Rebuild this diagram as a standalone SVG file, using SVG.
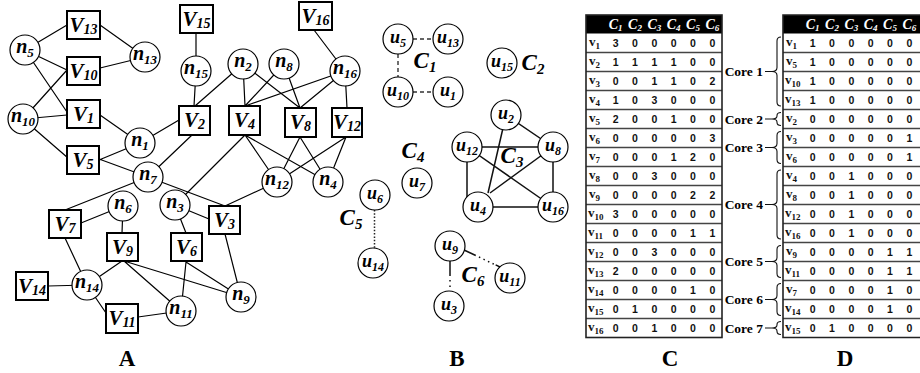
<svg xmlns="http://www.w3.org/2000/svg" width="920" height="373" viewBox="0 0 920 373">
<style>
  .bx{fill:#fff;stroke:#000;stroke-width:2}
  .cr{fill:#fff;stroke:#000;stroke-width:1.2}
  .e{stroke:#000;stroke-width:1.2;fill:none}
  .e2{stroke:#111;stroke-width:1.5;fill:none}
  .dash{stroke:#333;stroke-width:1.4;stroke-dasharray:4 3;fill:none}
  .dot{stroke:#222;stroke-width:1.5;stroke-dasharray:1.5 1.8;fill:none}
  .mix{stroke:#111;stroke-width:1.5;fill:none}
  .lb{font-family:"Liberation Serif",serif;font-weight:bold;font-style:italic;text-anchor:middle;fill:#000}
  .V{font-size:21px}
  .n{font-size:20px}
  .u{font-size:18px}
  .C{font-size:23px}
  .s14{font-size:14px}
  .s13{font-size:13px}
  .s12{font-size:12px}
  .s15{font-size:15px}
  .pl{font-family:"Liberation Serif",serif;font-weight:bold;font-size:23px;text-anchor:middle}
  .hd{font-family:"Liberation Serif",serif;font-weight:bold;font-style:italic;font-size:14px;fill:#fff;text-anchor:middle}
  .hs{font-size:9px}
  .num{font-family:"Liberation Sans",sans-serif;font-weight:bold;font-size:10.5px;text-anchor:middle;fill:#111}
  .rv{font-family:"Liberation Serif",serif;font-weight:bold;font-size:13px;fill:#111}
  .rs{font-size:9px}
  .sep{stroke:#444;stroke-width:1.4;fill:none}
  .tb{fill:none;stroke:#222;stroke-width:1.6}
  .core{font-family:"Liberation Serif",serif;font-weight:bold;font-size:13.5px;text-anchor:end}
  .br{fill:none;stroke:#111;stroke-width:1.1}
</style>

<!-- ===== Panel A: bipartite graph ===== -->
<g id="edges-A" class="e">
  <path d="M25,50L67,25M25,50L67,70M25,50L67,112M100,25L145,57M100,68L145,57M23,119L67,70M23,119L67,115M23,119L68,158"/>
  <path d="M100,115L140,143M99,160L140,143M99,159L148,177M140,143L179,120M192,135L148,177M148,177L65,210M148,177L225,206"/>
  <path d="M196,33L196,71M196,71L194,106M243,64L195,106M243,64L245,106M243,64L300,108M284,64L245,106M284,64L300,108"/>
  <path d="M345,71L245,106M345,71L300,108M345,71L347,108M314,30L345,71"/>
  <path d="M245,135L175,205M245,135L277,182M245,135L328,182M300,137L277,182M300,137L328,182M346,137L277,182M346,137L328,182"/>
  <path d="M277,182L225,206M175,205L209,219M175,205L186,233M225,234L241,297"/>
  <path d="M123,206L81,223M123,206L122,233M65,238L87,285M122,261L87,285M124,261L181,311M124,261L241,297"/>
  <path d="M186,262L181,311M186,262L241,297M87,285L48,286M87,285L106,313M138,317L181,311"/>
</g>

<g id="V13"><rect class="bx" x="67" y="11" width="33" height="28"/><text class="lb V" x="83.5" y="32">V<tspan class="s14" dy="2">13</tspan></text></g>
<g id="V10"><rect class="bx" x="67" y="57" width="33" height="28"/><text class="lb V" x="83.5" y="78">V<tspan class="s14" dy="2">10</tspan></text></g>
<g id="V1"><rect class="bx" x="67" y="100" width="33" height="28"/><text class="lb V" x="83.5" y="121">V<tspan class="s14" dy="2">1</tspan></text></g>
<g id="V5"><rect class="bx" x="67" y="146" width="32" height="28"/><text class="lb V" x="83" y="167">V<tspan class="s14" dy="2">5</tspan></text></g>
<g id="V15"><rect class="bx" x="180" y="5" width="33" height="28"/><text class="lb V" x="196.5" y="26">V<tspan class="s14" dy="2">15</tspan></text></g>
<g id="V16"><rect class="bx" x="299" y="2" width="33" height="28"/><text class="lb V" x="315.5" y="23">V<tspan class="s14" dy="2">16</tspan></text></g>
<g id="V2"><rect class="bx" x="179" y="106" width="31" height="29"/><text class="lb V" x="194.5" y="127">V<tspan class="s14" dy="2">2</tspan></text></g>
<g id="V4"><rect class="bx" x="229" y="106" width="31" height="29"/><text class="lb V" x="244.5" y="127">V<tspan class="s14" dy="2">4</tspan></text></g>
<g id="V8"><rect class="bx" x="285" y="108" width="31" height="29"/><text class="lb V" x="300.5" y="129">V<tspan class="s14" dy="2">8</tspan></text></g>
<g id="V12"><rect class="bx" x="332" y="108" width="30" height="29"/><text class="lb V" x="347" y="129">V<tspan class="s14" dy="2">12</tspan></text></g>
<g id="V3"><rect class="bx" x="209" y="206" width="31" height="28"/><text class="lb V" x="224.5" y="227">V<tspan class="s14" dy="2">3</tspan></text></g>
<g id="V7"><rect class="bx" x="49" y="210" width="32" height="28"/><text class="lb V" x="65" y="231">V<tspan class="s14" dy="2">7</tspan></text></g>
<g id="V9"><rect class="bx" x="107" y="233" width="31" height="28"/><text class="lb V" x="122.5" y="254">V<tspan class="s14" dy="2">9</tspan></text></g>
<g id="V6"><rect class="bx" x="171" y="233" width="31" height="28"/><text class="lb V" x="186.5" y="254">V<tspan class="s14" dy="2">6</tspan></text></g>
<g id="V14"><rect class="bx" x="16" y="272" width="32" height="28"/><text class="lb V" x="32" y="293">V<tspan class="s14" dy="2">14</tspan></text></g>
<g id="V11"><rect class="bx" x="106" y="304" width="32" height="29"/><text class="lb V" x="122" y="325">V<tspan class="s14" dy="2">11</tspan></text></g>

<g id="n5"><circle class="cr" cx="25" cy="50" r="15"/><text class="lb n" x="25" y="53">n<tspan class="s13" dy="4">5</tspan></text></g>
<g id="n13"><circle class="cr" cx="145" cy="57" r="15"/><text class="lb n" x="145" y="60">n<tspan class="s13" dy="4">13</tspan></text></g>
<g id="n10"><circle class="cr" cx="23" cy="119" r="15"/><text class="lb n" x="23" y="122">n<tspan class="s13" dy="4">10</tspan></text></g>
<g id="n1"><circle class="cr" cx="140" cy="143" r="15"/><text class="lb n" x="140" y="146">n<tspan class="s13" dy="4">1</tspan></text></g>
<g id="n7"><circle class="cr" cx="148" cy="177" r="15"/><text class="lb n" x="148" y="180">n<tspan class="s13" dy="4">7</tspan></text></g>
<g id="n15"><circle class="cr" cx="196" cy="71" r="15"/><text class="lb n" x="196" y="74">n<tspan class="s13" dy="4">15</tspan></text></g>
<g id="n2"><circle class="cr" cx="243" cy="64" r="15"/><text class="lb n" x="243" y="67">n<tspan class="s13" dy="4">2</tspan></text></g>
<g id="n8"><circle class="cr" cx="284" cy="64" r="15"/><text class="lb n" x="284" y="67">n<tspan class="s13" dy="4">8</tspan></text></g>
<g id="n16"><circle class="cr" cx="345" cy="71" r="15"/><text class="lb n" x="345" y="74">n<tspan class="s13" dy="4">16</tspan></text></g>
<g id="n12"><circle class="cr" cx="277" cy="182" r="15"/><text class="lb n" x="277" y="185">n<tspan class="s13" dy="4">12</tspan></text></g>
<g id="n4"><circle class="cr" cx="328" cy="182" r="15"/><text class="lb n" x="328" y="185">n<tspan class="s13" dy="4">4</tspan></text></g>
<g id="n6"><circle class="cr" cx="123" cy="206" r="15"/><text class="lb n" x="123" y="209">n<tspan class="s13" dy="4">6</tspan></text></g>
<g id="n3"><circle class="cr" cx="175" cy="205" r="15"/><text class="lb n" x="175" y="208">n<tspan class="s13" dy="4">3</tspan></text></g>
<g id="n14"><circle class="cr" cx="87" cy="285" r="15"/><text class="lb n" x="87" y="288">n<tspan class="s13" dy="4">14</tspan></text></g>
<g id="n11"><circle class="cr" cx="181" cy="311" r="15"/><text class="lb n" x="181" y="314">n<tspan class="s13" dy="4">11</tspan></text></g>
<g id="n9"><circle class="cr" cx="241" cy="297" r="15"/><text class="lb n" x="241" y="300">n<tspan class="s13" dy="4">9</tspan></text></g>

<text class="pl" x="127" y="366">A</text>

<!-- ===== Panel B: communities ===== -->
<g id="edges-B">
  <path class="dash" d="M413,39H433M398,54V77M413,92H433"/>
  <path class="dot" d="M374.5,210V248"/>
  <path class="e2" d="M506,115L553,147M506,115L488,193M467,147H553M467,147V198M467,147L553,207M553,147L490,193M553,147V207M478,207H553"/>
  <path class="mix" stroke-dasharray="13 3.5 1.5 3.5 1.5 3.5 1.5 3.5 1.5 2" d="M464,250L500,267"/>
  <path class="mix" stroke-dasharray="15 4 1.5 4 1.5 10" d="M450,261V292"/>
</g>

<g id="u5"><circle class="cr" cx="398" cy="39" r="15"/><text class="lb u" x="398" y="43">u<tspan class="s12" dy="3.5">5</tspan></text></g>
<g id="u13"><circle class="cr" cx="448" cy="39" r="15"/><text class="lb u" x="448" y="43">u<tspan class="s12" dy="3.5">13</tspan></text></g>
<g id="u10"><circle class="cr" cx="398" cy="92" r="15"/><text class="lb u" x="398" y="96">u<tspan class="s12" dy="3.5">10</tspan></text></g>
<g id="u1"><circle class="cr" cx="448" cy="92" r="15"/><text class="lb u" x="448" y="96">u<tspan class="s12" dy="3.5">1</tspan></text></g>
<g id="u15"><circle class="cr" cx="502" cy="63" r="15"/><text class="lb u" x="502" y="67">u<tspan class="s12" dy="3.5">15</tspan></text></g>
<g id="u2"><circle class="cr" cx="506" cy="115" r="15"/><text class="lb u" x="506" y="119">u<tspan class="s12" dy="3.5">2</tspan></text></g>
<g id="u12"><circle class="cr" cx="467" cy="147" r="15"/><text class="lb u" x="467" y="151">u<tspan class="s12" dy="3.5">12</tspan></text></g>
<g id="u8"><circle class="cr" cx="553" cy="147" r="15"/><text class="lb u" x="553" y="151">u<tspan class="s12" dy="3.5">8</tspan></text></g>
<g id="u4"><circle class="cr" cx="478" cy="207" r="15"/><text class="lb u" x="478" y="211">u<tspan class="s12" dy="3.5">4</tspan></text></g>
<g id="u16"><circle class="cr" cx="553" cy="207" r="15"/><text class="lb u" x="553" y="211">u<tspan class="s12" dy="3.5">16</tspan></text></g>
<g id="u7"><circle class="cr" cx="417" cy="183" r="15"/><text class="lb u" x="417" y="187">u<tspan class="s12" dy="3.5">7</tspan></text></g>
<g id="u6"><circle class="cr" cx="375" cy="195" r="15"/><text class="lb u" x="375" y="199">u<tspan class="s12" dy="3.5">6</tspan></text></g>
<g id="u14"><circle class="cr" cx="373" cy="263" r="15"/><text class="lb u" x="373" y="267">u<tspan class="s12" dy="3.5">14</tspan></text></g>
<g id="u9"><circle class="cr" cx="450" cy="246" r="15"/><text class="lb u" x="450" y="250">u<tspan class="s12" dy="3.5">9</tspan></text></g>
<g id="u11"><circle class="cr" cx="510" cy="278" r="15"/><text class="lb u" x="510" y="282">u<tspan class="s12" dy="3.5">11</tspan></text></g>
<g id="u3"><circle class="cr" cx="449" cy="306" r="15"/><text class="lb u" x="449" y="310">u<tspan class="s12" dy="3.5">3</tspan></text></g>

<g id="community-labels">
  <text class="lb C" x="425" y="68">C<tspan class="s15" dy="4">1</tspan></text>
  <text class="lb C" x="533" y="70">C<tspan class="s15" dy="4">2</tspan></text>
  <text class="lb C" x="512" y="163">C<tspan class="s15" dy="4">3</tspan></text>
  <text class="lb C" x="413" y="158">C<tspan class="s15" dy="4">4</tspan></text>
  <text class="lb C" x="351" y="225">C<tspan class="s15" dy="4">5</tspan></text>
  <text class="lb C" x="473" y="282">C<tspan class="s15" dy="4">6</tspan></text>
</g>

<text class="pl" x="457" y="366">B</text>

<!-- ===== Panel C: community counts per vertex ===== -->
<g id="table-C">
  <rect x="586" y="15" width="136" height="18.5" fill="#000"/>
  <text class="hd" x="615.7" y="28.5">C<tspan class="hs" dy="2">1</tspan></text>
  <text class="hd" x="635" y="28.5">C<tspan class="hs" dy="2">2</tspan></text>
  <text class="hd" x="654.3" y="28.5">C<tspan class="hs" dy="2">3</tspan></text>
  <text class="hd" x="673.7" y="28.5">C<tspan class="hs" dy="2">4</tspan></text>
  <text class="hd" x="693" y="28.5">C<tspan class="hs" dy="2">5</tspan></text>
  <text class="hd" x="712.3" y="28.5">C<tspan class="hs" dy="2">6</tspan></text>
  <path class="sep" d="M586,52.5H722M586,71.5H722M586,90.5H722M586,109.5H722M586,128.5H722M586,147.5H722M586,166.5H722M586,185.5H722M586,204.5H722M586,223.5H722M586,242.5H722M586,261.5H722M586,280.5H722M586,299.5H722M586,318.5H722"/>
  <rect class="tb" x="586" y="15" width="136" height="322.5"/>
  <text class="rv" x="589" y="46">v<tspan class="rs" dy="3">1</tspan></text>
  <text class="rv" x="589" y="65">v<tspan class="rs" dy="3">2</tspan></text>
  <text class="rv" x="589" y="84">v<tspan class="rs" dy="3">3</tspan></text>
  <text class="rv" x="589" y="103">v<tspan class="rs" dy="3">4</tspan></text>
  <text class="rv" x="589" y="122">v<tspan class="rs" dy="3">5</tspan></text>
  <text class="rv" x="589" y="141">v<tspan class="rs" dy="3">6</tspan></text>
  <text class="rv" x="589" y="160">v<tspan class="rs" dy="3">7</tspan></text>
  <text class="rv" x="589" y="179">v<tspan class="rs" dy="3">8</tspan></text>
  <text class="rv" x="589" y="198">v<tspan class="rs" dy="3">9</tspan></text>
  <text class="rv" x="588" y="217">v<tspan class="rs" dy="3">10</tspan></text>
  <text class="rv" x="588" y="236">v<tspan class="rs" dy="3">11</tspan></text>
  <text class="rv" x="588" y="255">v<tspan class="rs" dy="3">12</tspan></text>
  <text class="rv" x="588" y="274">v<tspan class="rs" dy="3">13</tspan></text>
  <text class="rv" x="588" y="293">v<tspan class="rs" dy="3">14</tspan></text>
  <text class="rv" x="588" y="312">v<tspan class="rs" dy="3">15</tspan></text>
  <text class="rv" x="588" y="331">v<tspan class="rs" dy="3">16</tspan></text>
  <text class="num" x="615.7 635 654.3 673.7 693 712.3" y="46.5">300000</text>
  <text class="num" x="615.7 635 654.3 673.7 693 712.3" y="65.5">111100</text>
  <text class="num" x="615.7 635 654.3 673.7 693 712.3" y="84.5">001102</text>
  <text class="num" x="615.7 635 654.3 673.7 693 712.3" y="103.5">103000</text>
  <text class="num" x="615.7 635 654.3 673.7 693 712.3" y="122.5">200100</text>
  <text class="num" x="615.7 635 654.3 673.7 693 712.3" y="141.5">000003</text>
  <text class="num" x="615.7 635 654.3 673.7 693 712.3" y="160.5">000120</text>
  <text class="num" x="615.7 635 654.3 673.7 693 712.3" y="179.5">003000</text>
  <text class="num" x="615.7 635 654.3 673.7 693 712.3" y="198.5">000022</text>
  <text class="num" x="615.7 635 654.3 673.7 693 712.3" y="217.5">300000</text>
  <text class="num" x="615.7 635 654.3 673.7 693 712.3" y="236.5">000011</text>
  <text class="num" x="615.7 635 654.3 673.7 693 712.3" y="255.5">003000</text>
  <text class="num" x="615.7 635 654.3 673.7 693 712.3" y="274.5">200000</text>
  <text class="num" x="615.7 635 654.3 673.7 693 712.3" y="293.5">000010</text>
  <text class="num" x="615.7 635 654.3 673.7 693 712.3" y="312.5">010000</text>
  <text class="num" x="615.7 635 654.3 673.7 693 712.3" y="331.5">001000</text>
</g>
<text class="pl" x="670" y="366">C</text>

<!-- ===== Core brackets ===== -->
<g id="cores">
  <path class="br" d="M781,37Q777,37 777,41V67.5Q777,71.5 772,71.5Q777,71.5 777,75.5V102Q777,106 781,106M765,71.5H772"/>
  <path class="br" d="M781,112.5Q777,112.5 777,115.5V116Q777,119 772,119Q777,119 777,122V122.5Q777,125.5 781,125.5M765,119H772"/>
  <path class="br" d="M781,131.5Q777,131.5 777,135.5V143.5Q777,147.5 772,147.5Q777,147.5 777,151.5V159.5Q777,163.5 781,163.5M765,147.5H772"/>
  <path class="br" d="M781,170Q777,170 777,174V200.5Q777,204.5 772,204.5Q777,204.5 777,208.5V235Q777,239 781,239M765,204.5H772"/>
  <path class="br" d="M781,245.5Q777,245.5 777,249.5V257.5Q777,261.5 772,261.5Q777,261.5 777,265.5V273.5Q777,277.5 781,277.5M765,261.5H772"/>
  <path class="br" d="M781,283.5Q777,283.5 777,287.5V295.5Q777,299.5 772,299.5Q777,299.5 777,303.5V311.5Q777,315.5 781,315.5M765,299.5H772"/>
  <path class="br" d="M781,321.5Q777,321.5 777,324.5V325Q777,328 772,328Q777,328 777,331V331.5Q777,334.5 781,334.5M765,328H772"/>
  <text class="core" x="763" y="76">Core 1</text>
  <text class="core" x="763" y="123.5">Core 2</text>
  <text class="core" x="763" y="152">Core 3</text>
  <text class="core" x="763" y="209">Core 4</text>
  <text class="core" x="763" y="266">Core 5</text>
  <text class="core" x="763" y="304">Core 6</text>
  <text class="core" x="763" y="332.5">Core 7</text>
</g>

<!-- ===== Panel D: core membership ===== -->
<g id="table-D">
  <rect x="783" y="15" width="137" height="18.5" fill="#000"/>
  <text class="hd" x="812.7" y="28.5">C<tspan class="hs" dy="2">1</tspan></text>
  <text class="hd" x="832" y="28.5">C<tspan class="hs" dy="2">2</tspan></text>
  <text class="hd" x="851.3" y="28.5">C<tspan class="hs" dy="2">3</tspan></text>
  <text class="hd" x="870.7" y="28.5">C<tspan class="hs" dy="2">4</tspan></text>
  <text class="hd" x="890" y="28.5">C<tspan class="hs" dy="2">5</tspan></text>
  <text class="hd" x="909.3" y="28.5">C<tspan class="hs" dy="2">6</tspan></text>
  <path class="sep" d="M783,52.5H920M783,71.5H920M783,90.5H920M783,109.5H920M783,128.5H920M783,147.5H920M783,166.5H920M783,185.5H920M783,204.5H920M783,223.5H920M783,242.5H920M783,261.5H920M783,280.5H920M783,299.5H920M783,318.5H920"/>
  <path class="tb" d="M920,15H783V337.5H920"/>
  <text class="rv" x="786" y="46">v<tspan class="rs" dy="3">1</tspan></text>
  <text class="rv" x="786" y="65">v<tspan class="rs" dy="3">5</tspan></text>
  <text class="rv" x="785" y="84">v<tspan class="rs" dy="3">10</tspan></text>
  <text class="rv" x="785" y="103">v<tspan class="rs" dy="3">13</tspan></text>
  <text class="rv" x="786" y="122">v<tspan class="rs" dy="3">2</tspan></text>
  <text class="rv" x="786" y="141">v<tspan class="rs" dy="3">3</tspan></text>
  <text class="rv" x="786" y="160">v<tspan class="rs" dy="3">6</tspan></text>
  <text class="rv" x="786" y="179">v<tspan class="rs" dy="3">4</tspan></text>
  <text class="rv" x="786" y="198">v<tspan class="rs" dy="3">8</tspan></text>
  <text class="rv" x="785" y="217">v<tspan class="rs" dy="3">12</tspan></text>
  <text class="rv" x="785" y="236">v<tspan class="rs" dy="3">16</tspan></text>
  <text class="rv" x="786" y="255">v<tspan class="rs" dy="3">9</tspan></text>
  <text class="rv" x="785" y="274">v<tspan class="rs" dy="3">11</tspan></text>
  <text class="rv" x="786" y="293">v<tspan class="rs" dy="3">7</tspan></text>
  <text class="rv" x="785" y="312">v<tspan class="rs" dy="3">14</tspan></text>
  <text class="rv" x="785" y="331">v<tspan class="rs" dy="3">15</tspan></text>
  <text class="num" x="812.7 832 851.3 870.7 890 909.3" y="46.5">100000</text>
  <text class="num" x="812.7 832 851.3 870.7 890 909.3" y="65.5">100000</text>
  <text class="num" x="812.7 832 851.3 870.7 890 909.3" y="84.5">100000</text>
  <text class="num" x="812.7 832 851.3 870.7 890 909.3" y="103.5">100000</text>
  <text class="num" x="812.7 832 851.3 870.7 890 909.3" y="122.5">000000</text>
  <text class="num" x="812.7 832 851.3 870.7 890 909.3" y="141.5">000001</text>
  <text class="num" x="812.7 832 851.3 870.7 890 909.3" y="160.5">000001</text>
  <text class="num" x="812.7 832 851.3 870.7 890 909.3" y="179.5">001000</text>
  <text class="num" x="812.7 832 851.3 870.7 890 909.3" y="198.5">001000</text>
  <text class="num" x="812.7 832 851.3 870.7 890 909.3" y="217.5">001000</text>
  <text class="num" x="812.7 832 851.3 870.7 890 909.3" y="236.5">001000</text>
  <text class="num" x="812.7 832 851.3 870.7 890 909.3" y="255.5">000011</text>
  <text class="num" x="812.7 832 851.3 870.7 890 909.3" y="274.5">000011</text>
  <text class="num" x="812.7 832 851.3 870.7 890 909.3" y="293.5">000010</text>
  <text class="num" x="812.7 832 851.3 870.7 890 909.3" y="312.5">000010</text>
  <text class="num" x="812.7 832 851.3 870.7 890 909.3" y="331.5">010000</text>
</g>
<text class="pl" x="845" y="366">D</text>
</svg>
